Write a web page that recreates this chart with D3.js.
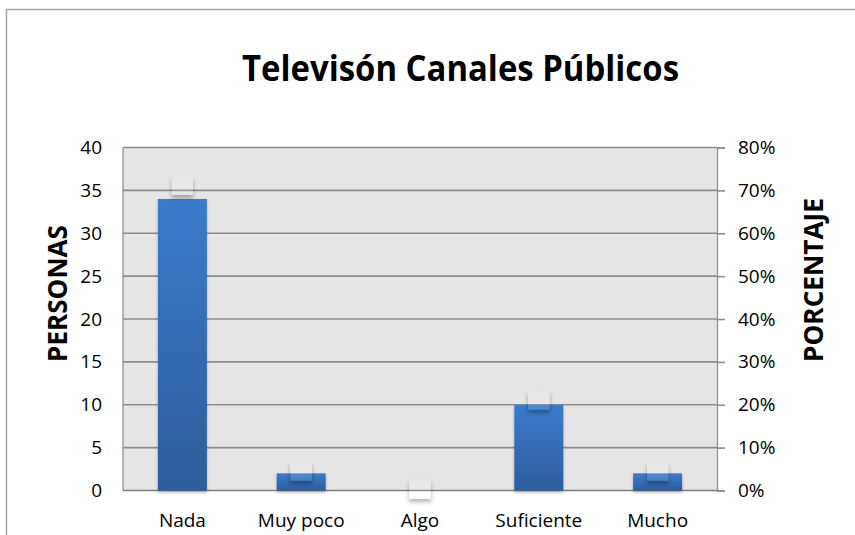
<!DOCTYPE html>
<html>
<head>
<meta charset="utf-8">
<script src="https://cdn.jsdelivr.net/npm/d3@7"></script>
<style>
  html, body { margin: 0; padding: 0; background: #fff; }
  svg { display: block; }
  text { font-family: "Open Sans", "DejaVu Sans", sans-serif; fill: #000; }
</style>
</head>
<body>
<svg id="chart" width="855" height="535"></svg>
<script>
// ---- data ----
const categories = ["Nada", "Muy poco", "Algo", "Suficiente", "Mucho"];
const personas = [34, 2, 0, 10, 2];
const porcentaje = [70.8, 4.2, 0, 20.8, 4.2];
const leftTicks = [0, 5, 10, 15, 20, 25, 30, 35, 40];
const rightTicks = [0, 10, 20, 30, 40, 50, 60, 70, 80];
const chartTitle = "Televisón Canales Públicos";
const leftTitle = "PERSONAS";
const rightTitle = "PORCENTAJE";

// ---- layout ----
const svg = d3.select("#chart");
const plot = { left: 123, right: 717, top: 147.5, bottom: 490.5 };

const x = d3.scaleBand().domain(categories)
  .range([plot.left, plot.right]).paddingInner(0.588).paddingOuter(0.294);
const yL = d3.scaleLinear().domain([0, 40]).range([plot.bottom, plot.top]);
const yR = d3.scaleLinear().domain([0, 80]).range([plot.bottom, plot.top]);

const defs = svg.append("defs");
const pat = defs.append("pattern").attr("id", "dots").attr("width", 2).attr("height", 2)
  .attr("patternUnits", "userSpaceOnUse");
pat.append("rect").attr("width", 2).attr("height", 2).attr("fill", "#ebebeb");
pat.append("rect").attr("x", 0).attr("y", 0).attr("width", 1).attr("height", 1).attr("fill", "#e0e0e0");
pat.append("rect").attr("x", 1).attr("y", 1).attr("width", 1).attr("height", 1).attr("fill", "#e0e0e0");

const grad = defs.append("linearGradient").attr("id", "barGrad")
  .attr("x1", 0).attr("y1", 0).attr("x2", 0).attr("y2", 1);
grad.append("stop").attr("offset", "0%").attr("stop-color", "#3b7bcb");
grad.append("stop").attr("offset", "100%").attr("stop-color", "#2d5d9c");

const barShadow = defs.append("filter").attr("id", "barShadow")
  .attr("x", "-20%").attr("y", "-20%").attr("width", "140%").attr("height", "140%");
barShadow.append("feDropShadow").attr("dx", 0).attr("dy", 2).attr("stdDeviation", 1.5)
  .attr("flood-color", "#000").attr("flood-opacity", 0.3);

// ghost marker shadow: shadow only outside the (nearly transparent) box
const gf = defs.append("filter").attr("id", "ghost")
  .attr("x", "-60%").attr("y", "-60%").attr("width", "220%").attr("height", "220%");
gf.append("feComponentTransfer").attr("in", "SourceAlpha").attr("result", "solid")
  .append("feFuncA").attr("type", "linear").attr("slope", 50);
gf.append("feGaussianBlur").attr("in", "solid").attr("stdDeviation", 2).attr("result", "blur");
gf.append("feOffset").attr("in", "blur").attr("dx", 0).attr("dy", 2.5).attr("result", "off");
gf.append("feFlood").attr("flood-color", "#000").attr("flood-opacity", 0.3).attr("result", "col");
gf.append("feComposite").attr("in", "col").attr("in2", "off").attr("operator", "in").attr("result", "sh");
gf.append("feComposite").attr("in", "sh").attr("in2", "solid").attr("operator", "out").attr("result", "sh2");
const gm = gf.append("feMerge");
gm.append("feMergeNode").attr("in", "sh2");
gm.append("feMergeNode").attr("in", "SourceGraphic");

// outer frame
svg.append("rect").attr("x", 6.5).attr("y", 9.5).attr("width", 900).attr("height", 600)
  .attr("fill", "#fff").attr("stroke", "#a6a6a6").attr("stroke-width", 1.5);

// plot background
svg.append("rect").attr("x", plot.left).attr("y", plot.top)
  .attr("width", plot.right - plot.left).attr("height", plot.bottom - plot.top)
  .attr("fill", "url(#dots)");

// gridlines
svg.append("g").selectAll("line").data(leftTicks).join("line")
  .attr("x1", plot.left).attr("x2", plot.right)
  .attr("y1", d => yL(d)).attr("y2", d => yL(d))
  .attr("stroke", d => d === 0 ? "#7f7f7f" : "#8c8c8c").attr("stroke-width", 1.6);
// left border of plot area
svg.append("line").attr("x1", plot.left).attr("x2", plot.left)
  .attr("y1", plot.top).attr("y2", plot.bottom).attr("stroke", "#929292").attr("stroke-width", 1.3);

// bars
svg.append("g").selectAll("rect").data(personas).join("rect")
  .attr("x", (d, i) => x(categories[i]))
  .attr("width", x.bandwidth())
  .attr("y", d => yL(d))
  .attr("height", d => yL(0) - yL(d))
  .attr("fill", "url(#barGrad)")
  .attr("filter", "url(#barShadow)");

// percentage series (ghost markers)
const gw = 21, gh = 18;
svg.append("g").selectAll("rect").data(porcentaje).join("rect")
  .attr("x", (d, i) => x(categories[i]) + x.bandwidth() / 2 - gw / 2)
  .attr("y", d => yR(d) - gh / 2 - 1)
  .attr("width", gw).attr("height", gh)
  .attr("fill", "#fff").attr("fill-opacity", 0.1)
  .attr("filter", "url(#ghost)");

// left axis
const gL = svg.append("g").attr("transform", `translate(${plot.left},0)`)
  .call(d3.axisLeft(yL).tickValues(leftTicks).tickSize(0).tickPadding(21));
gL.select(".domain").remove();
gL.selectAll("text").style("font-size", "19px").style("font-family", "'Open Sans', sans-serif");

// right axis
const gR = svg.append("g").attr("transform", `translate(${plot.right},0)`)
  .call(d3.axisRight(yR).tickValues(rightTicks).tickSize(8).tickPadding(13).tickFormat(d => d + "%"));
gR.select(".domain").attr("stroke", "#929292").attr("stroke-width", 1.3);
gR.selectAll(".tick line").attr("stroke", "#8c8c8c").attr("stroke-width", 1.6);
gR.selectAll("text").style("font-size", "19px").style("font-family", "'Open Sans', sans-serif");

// bottom axis
const gB = svg.append("g").attr("transform", `translate(0,${plot.bottom})`)
  .call(d3.axisBottom(x).tickSize(0).tickPadding(23));
gB.select(".domain").remove();
gB.selectAll("text").style("font-size", "19px").style("font-family", "'Open Sans', sans-serif");

// titles
svg.append("text").attr("x", 460.5).attr("y", 81).attr("text-anchor", "middle")
  .attr("textLength", 437).attr("lengthAdjust", "spacingAndGlyphs")
  .style("font-size", "36px").style("font-weight", "bold").text(chartTitle);

svg.append("text").attr("transform", "translate(67,293.5) rotate(-90)")
  .attr("text-anchor", "middle").attr("textLength", 137).attr("lengthAdjust", "spacingAndGlyphs")
  .style("font-size", "26px").style("font-weight", "bold").text(leftTitle);

svg.append("text").attr("transform", "translate(823,280) rotate(-90)")
  .attr("text-anchor", "middle").attr("textLength", 164).attr("lengthAdjust", "spacingAndGlyphs")
  .style("font-size", "26px").style("font-weight", "bold").text(rightTitle);
</script>
</body>
</html>
